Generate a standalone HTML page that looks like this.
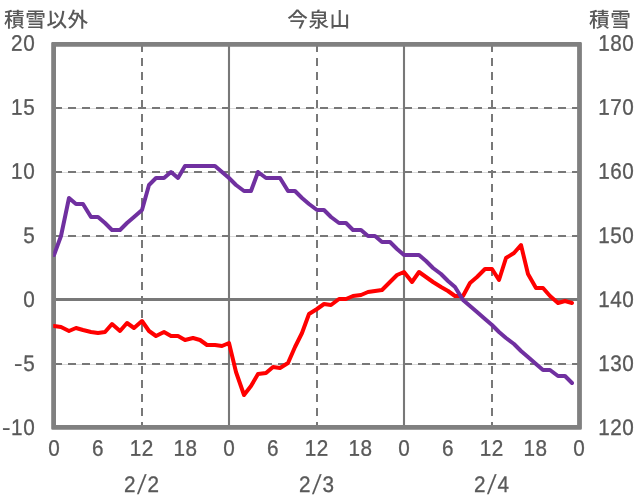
<!DOCTYPE html>
<html lang="ja"><head><meta charset="utf-8"><title>今泉山</title>
<style>
html,body{margin:0;padding:0;background:#fff;}
body{width:636px;height:501px;overflow:hidden;}
svg{display:block;text-rendering:geometricPrecision;}
text{font-family:"Liberation Sans","Noto Sans CJK JP",sans-serif;fill:#595959;}
.n{font-size:22.5px;stroke:#595959;stroke-width:0.3px;letter-spacing:0.6px;}
.j{font-size:20.6px;font-weight:500;letter-spacing:0.6px;}
</style></head><body>
<svg width="636" height="501" viewBox="0 0 636 501">
<rect width="636" height="501" fill="#fff"/>

<line x1="54" y1="108.5" x2="579" y2="108.5" stroke="#dadada" stroke-width="1"/>
<line x1="54" y1="172.5" x2="579" y2="172.5" stroke="#dadada" stroke-width="1"/>
<line x1="54" y1="236.5" x2="579" y2="236.5" stroke="#dadada" stroke-width="1"/>
<line x1="54" y1="364.5" x2="579" y2="364.5" stroke="#dadada" stroke-width="1"/>
<line x1="54" y1="108" x2="579" y2="108" stroke="#787878" stroke-width="2" stroke-dasharray="8 6"/>
<line x1="54" y1="172" x2="579" y2="172" stroke="#787878" stroke-width="2" stroke-dasharray="8 6"/>
<line x1="54" y1="236" x2="579" y2="236" stroke="#787878" stroke-width="2" stroke-dasharray="8 6"/>
<line x1="54" y1="364" x2="579" y2="364" stroke="#787878" stroke-width="2" stroke-dasharray="8 6"/>
<line x1="54" y1="299.5" x2="579" y2="299.5" stroke="#787878" stroke-width="3"/>
<line x1="142" y1="44" x2="142" y2="427" stroke="#787878" stroke-width="2" stroke-dasharray="8 6"/>
<line x1="317" y1="44" x2="317" y2="427" stroke="#787878" stroke-width="2" stroke-dasharray="8 6"/>
<line x1="492" y1="44" x2="492" y2="427" stroke="#787878" stroke-width="2" stroke-dasharray="8 6"/>
<line x1="229" y1="44" x2="229" y2="427" stroke="#787878" stroke-width="2.1"/>
<line x1="404" y1="44" x2="404" y2="427" stroke="#787878" stroke-width="2.1"/>
<path d="M52.50 42.00 H580.60 A1.3 1.3 0 0 1 581.90 43.30 V428.40 A1.3 1.3 0 0 1 580.60 429.70 H52.50 A1.3 1.3 0 0 1 51.20 428.40 V43.30 A1.3 1.3 0 0 1 52.50 42.00 Z M56.00 46.80 V424.90 H577.10 V46.80 Z" fill="#808080" fill-rule="evenodd"/>
<clipPath id="pc"><rect x="53.2" y="40" width="530" height="392"/></clipPath><g clip-path="url(#pc)">
<polyline points="54,326 61,327 69,331 76,328 83,330 91,332 98,333 105,332 112,324 120,331 127,323 134,328 142,321 149,331 156,336 164,332 171,336 178,336 185,340 193,338 200,340 207,345 215,345 222,346 229,343 236,372 244,395 251,386 258,374 266,373 273,367 280,368 288,363 295,347 302,333 309,314 317,309 324,304 331,305 339,299 346,299 353,296 361,295 368,292 375,291 382,290 390,282 397,275 404,272 412,282 419,272 426,277 433,282 441,287 448,291 455,296 463,296 470,283 477,277 485,269 492,269 499,280 506,258 514,253 521,245 528,274 536,288 543,288 550,296 558,303 565,301 572,303" fill="none" stroke="#ff0000" stroke-width="4" stroke-linejoin="round" stroke-linecap="round"/>
<polyline points="54,255 61,236 69,198 76,204 83,204 91,217 98,217 105,223 112,230 120,230 127,223 134,217 142,210 149,185 156,178 164,178 171,172 178,178 185,166 193,166 200,166 207,166 215,166 222,172 229,178 236,185 244,191 251,191 258,172 266,178 273,178 280,178 288,191 295,191 302,198 309,204 317,210 324,210 331,217 339,223 346,223 353,230 361,230 368,236 375,236 382,242 390,242 397,249 404,255 412,255 419,255 426,261 433,268 441,274 448,281 455,287 463,300 470,306 477,312 485,319 492,325 499,332 506,338 514,344 521,351 528,357 536,364 543,370 550,370 558,376 565,376 572,383" fill="none" stroke="#7030a0" stroke-width="4" stroke-linejoin="round" stroke-linecap="round"/></g>
<text class="n" transform="translate(35.20 50.75) rotate(0.05) scale(0.92 1)" text-anchor="end">20</text>
<text class="n" transform="translate(35.20 114.80) rotate(0.05) scale(0.92 1)" text-anchor="end">15</text>
<text class="n" transform="translate(35.20 178.85) rotate(0.05) scale(0.92 1)" text-anchor="end">10</text>
<text class="n" transform="translate(35.20 242.90) rotate(0.05) scale(0.92 1)" text-anchor="end">5</text>
<text class="n" transform="translate(35.20 306.95) rotate(0.05) scale(0.92 1)" text-anchor="end">0</text>
<text class="n" transform="translate(35.20 371.00) rotate(0.05) scale(0.92 1)" text-anchor="end">5</text>
<text class="n" transform="translate(22.95 371.00) rotate(0.05) scale(1.12 1)" text-anchor="end">-</text>
<text class="n" transform="translate(35.20 435.05) rotate(0.05) scale(0.92 1)" text-anchor="end">10</text>
<text class="n" transform="translate(11.05 435.05) rotate(0.05) scale(1.12 1)" text-anchor="end">-</text>
<text class="n" transform="translate(598.20 50.75) rotate(0.05) scale(0.92 1)" text-anchor="start">180</text>
<text class="n" transform="translate(598.20 114.80) rotate(0.05) scale(0.92 1)" text-anchor="start">170</text>
<text class="n" transform="translate(598.20 178.85) rotate(0.05) scale(0.92 1)" text-anchor="start">160</text>
<text class="n" transform="translate(598.20 242.90) rotate(0.05) scale(0.92 1)" text-anchor="start">150</text>
<text class="n" transform="translate(598.20 306.95) rotate(0.05) scale(0.92 1)" text-anchor="start">140</text>
<text class="n" transform="translate(598.20 371.00) rotate(0.05) scale(0.92 1)" text-anchor="start">130</text>
<text class="n" transform="translate(598.20 435.05) rotate(0.05) scale(0.92 1)" text-anchor="start">120</text>
<text class="n" transform="translate(54.35 455.80) rotate(0.05) scale(0.92 1)" text-anchor="middle">0</text>
<text class="n" transform="translate(98.10 455.80) rotate(0.05) scale(0.92 1)" text-anchor="middle">6</text>
<text class="n" transform="translate(141.85 455.80) rotate(0.05) scale(0.92 1)" text-anchor="middle">12</text>
<text class="n" transform="translate(185.61 455.80) rotate(0.05) scale(0.92 1)" text-anchor="middle">18</text>
<text class="n" transform="translate(229.36 455.80) rotate(0.05) scale(0.92 1)" text-anchor="middle">0</text>
<text class="n" transform="translate(273.11 455.80) rotate(0.05) scale(0.92 1)" text-anchor="middle">6</text>
<text class="n" transform="translate(316.86 455.80) rotate(0.05) scale(0.92 1)" text-anchor="middle">12</text>
<text class="n" transform="translate(360.61 455.80) rotate(0.05) scale(0.92 1)" text-anchor="middle">18</text>
<text class="n" transform="translate(404.37 455.80) rotate(0.05) scale(0.92 1)" text-anchor="middle">0</text>
<text class="n" transform="translate(448.12 455.80) rotate(0.05) scale(0.92 1)" text-anchor="middle">6</text>
<text class="n" transform="translate(491.87 455.80) rotate(0.05) scale(0.92 1)" text-anchor="middle">12</text>
<text class="n" transform="translate(535.62 455.80) rotate(0.05) scale(0.92 1)" text-anchor="middle">18</text>
<text class="n" transform="translate(579.37 455.80) rotate(0.05) scale(0.92 1)" text-anchor="middle">0</text>
<text class="n" transform="translate(124.10 492.00) rotate(0.05) scale(0.92 1)" text-anchor="start">2</text>
<text class="n" transform="translate(147.50 492.00) rotate(0.05) scale(0.92 1)" text-anchor="start">2</text>
<text class="n" style="stroke-width:0.1px" transform="translate(136.9,493.8) skewX(-9.5) scale(1,1.22)">/</text>
<text class="n" transform="translate(299.11 492.00) rotate(0.05) scale(0.92 1)" text-anchor="start">2</text>
<text class="n" transform="translate(322.51 492.00) rotate(0.05) scale(0.92 1)" text-anchor="start">3</text>
<text class="n" style="stroke-width:0.1px" transform="translate(311.9,493.8) skewX(-9.5) scale(1,1.22)">/</text>
<text class="n" transform="translate(474.12 492.00) rotate(0.05) scale(0.92 1)" text-anchor="start">2</text>
<text class="n" transform="translate(497.52 492.00) rotate(0.05) scale(0.92 1)" text-anchor="start">4</text>
<text class="n" style="stroke-width:0.1px" transform="translate(486.9,493.8) skewX(-9.5) scale(1,1.22)">/</text>
<text class="j" x="4" y="26.5">積雪以外</text>
<text class="j" x="319.0" y="26.5" text-anchor="middle">今泉山</text>
<text class="j" x="589" y="26.5">積雪</text>
</svg></body></html>
